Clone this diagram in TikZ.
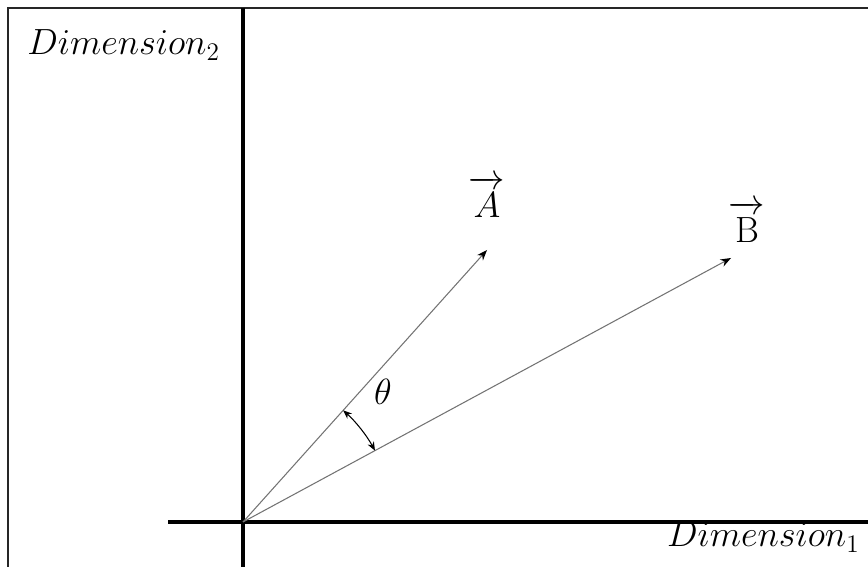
\documentclass[tikz,border=0pt]{standalone}
\usetikzlibrary{arrows.meta}
\begin{document}
\begin{tikzpicture}[x=0.02cm, y=0.02cm,
    frame/.style={line width=1.2pt, black!85},
    axis/.style={line width=2.2pt},
    vec/.style={-{Stealth[length=6pt, width=4.5pt, color=black]}, black!55, line width=0.6pt},
    angarrow/.style={{Stealth[length=5pt, width=4pt]}-{Stealth[length=5pt, width=4pt]}, line width=0.6pt},
    lbl/.style={font=\fontsize{21.5}{26}\selectfont, inner sep=0pt}
]
\useasboundingbox (0,0) rectangle (868,567);

% Marco
\draw[frame] (8,0) -- (8,559) -- (868,559);

% Ejes
\coordinate (O) at (243,45);
\coordinate (Ytop) at (243,559);
\coordinate (Ybot) at (243,0);
\coordinate (Xleft) at (168,45);
\coordinate (Xright) at (868,45);
\draw[axis] (Ybot) -- (Ytop);
\draw[axis] (Xleft) -- (Xright);

% Vectores
\coordinate (A) at (487,317);
\coordinate (B) at (731,309);
\draw[vec] (O) -- (A);
\draw[vec] (O) -- (B);

% Angulo
\draw[angarrow] ([shift=(48.1:150)]O) arc[start angle=48.1, end angle=28.4, radius=150];

% Etiquetas
\node[lbl, anchor=base west] (dimy) at (27,512) {$Dimension_2$};
\node[lbl, anchor=base east] (dimx) at (860,20) {$Dimension_1$};
\node[lbl, anchor=base] (labA) at (487,349) {$\overrightarrow{\rule{0pt}{0.8em}A}$};
\node[lbl, anchor=base] (labB) at (747,324) {$\overrightarrow{\rule{0pt}{0.8em}\mathrm{B}}$};
\node[lbl] (theta) at (383,175) {$\theta$};

\end{tikzpicture}
\end{document}
